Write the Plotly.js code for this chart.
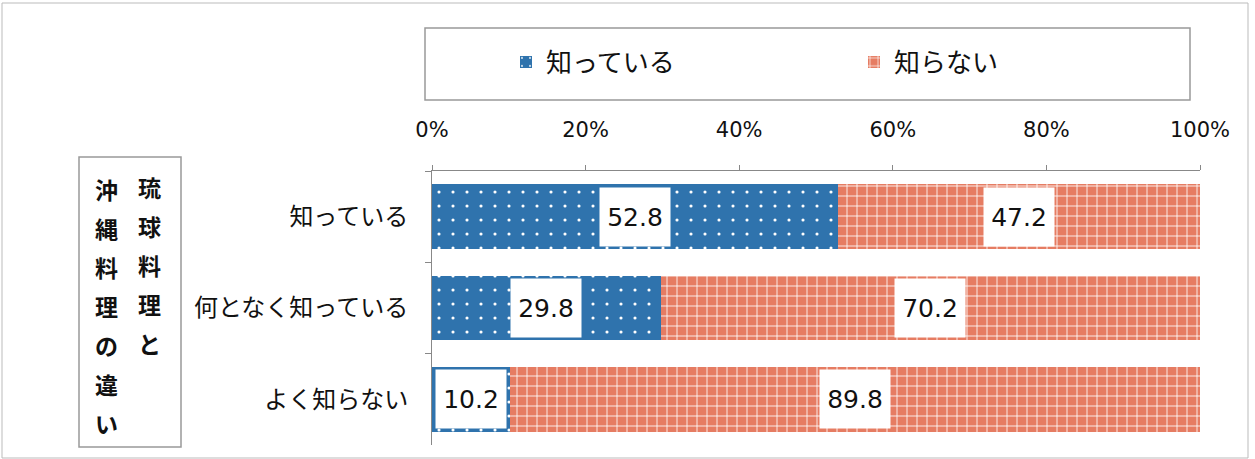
<!DOCTYPE html>
<html><head><meta charset="utf-8">
<script src="https://cdn.plot.ly/plotly-3.0.1.min.js"></script>
<style>html,body{margin:0;padding:0;background:#fff}</style>
</head><body><div id="chart" style="width:1255px;height:459px"></div>
<script>
const categories = ['知っている', '何となく知っている', 'よく知らない'];
const seriesNames = ['知っている', '知らない'];
const knowValues = [52.8, 29.8, 10.2];
const notKnowValues = [47.2, 70.2, 89.8];
const tickVals = [0, 20, 40, 60, 80, 100];
const tickLabels = ['0%', '20%', '40%', '60%', '80%', '100%'];
const sideTitleRight = '琉球料理と';
const sideTitleLeft = '沖縄料理の違い';

const W = 1255, H = 459, ML = 432, MR = 55, MT = 171, MB = 14;
const PW = W - ML - MR, PH = H - MT - MB;
const px = x => (x - ML) / PW;
const py = y => (H - MB - y) / PH;

const blue = '#2f73ad', orange = '#e67c62';
const jp = '"Noto Sans CJK JP", "Noto Sans", sans-serif';

const traces = [
  {type: 'bar', orientation: 'h', name: seriesNames[0], y: categories, x: knowValues, width: 0.71,
   marker: {color: blue, line: {width: 0}, pattern: {shape: '.', bgcolor: blue, fgcolor: '#ffffff', size: 14, solidity: 0.04}},
   hoverinfo: 'skip'},
  {type: 'bar', orientation: 'h', name: seriesNames[1], y: categories, x: notKnowValues, width: 0.71,
   marker: {color: orange, line: {width: 0}, pattern: {shape: '+', bgcolor: orange, fgcolor: '#ffffff', size: 10, solidity: 0.16}},
   hoverinfo: 'skip'}
];

const annotations = [];
const lblFont = {family: 'DejaVu Sans, sans-serif', size: 25, color: '#111'};
categories.forEach((c, i) => {
  annotations.push({xref: 'x', yref: 'y', x: knowValues[i] / 2, y: c, text: knowValues[i].toFixed(1), showarrow: false,
    xanchor: 'center', yanchor: 'middle', bgcolor: '#ffffff', width: 68, height: 56, font: lblFont});
  annotations.push({xref: 'x', yref: 'y', x: knowValues[i] + notKnowValues[i] / 2, y: c, text: notKnowValues[i].toFixed(1), showarrow: false,
    xanchor: 'center', yanchor: 'middle', bgcolor: '#ffffff', width: 68, height: 56, font: lblFont});
});
const sideFont = {family: jp, size: 23, color: '#111', weight: 'bold'};
[...sideTitleRight].forEach((ch, i) => annotations.push({xref: 'paper', yref: 'paper', x: px(149), y: py(187 + i * 39),
  xanchor: 'center', yanchor: 'middle', text: ch, showarrow: false, font: sideFont}));
[...sideTitleLeft].forEach((ch, i) => annotations.push({xref: 'paper', yref: 'paper', x: px(106), y: py(189 + i * 39),
  xanchor: 'center', yanchor: 'middle', text: ch, showarrow: false, font: sideFont}));

const layout = {
  width: W, height: H,
  margin: {l: ML, r: MR, t: MT, b: MB},
  paper_bgcolor: '#ffffff', plot_bgcolor: '#ffffff',
  barmode: 'stack', bargap: 0.29,
  showlegend: true,
  legend: {orientation: 'h', x: px(506), xanchor: 'left', y: py(62), yanchor: 'middle',
    entrywidth: 303, entrywidthmode: 'pixels', font: {family: jp, size: 26, color: '#111'},
    bgcolor: 'rgba(0,0,0,0)', itemwidth: 30, traceorder: 'normal'},
  xaxis: {side: 'top', range: [0, 100], tickvals: tickVals, ticktext: tickLabels, showgrid: false, zeroline: false,
    showline: true, linecolor: '#888', linewidth: 1, ticks: 'outside', ticklen: 5, tickcolor: '#888',
    ticklabelstandoff: 20, tickfont: {family: 'DejaVu Sans, sans-serif', size: 21, color: '#111'}, fixedrange: true},
  yaxis: {autorange: 'reversed', showgrid: false, zeroline: false, showline: true, linecolor: '#888', linewidth: 1,
    ticks: 'outside', ticklen: 6, tickcolor: '#888', tickson: 'boundaries', ticklabelstandoff: 18,
    tickfont: {family: jp, size: 24, color: '#111'}, fixedrange: true},
  shapes: [
    {type: 'rect', xref: 'paper', yref: 'paper', x0: px(425), x1: px(1190), y0: py(28), y1: py(100), line: {color: '#999', width: 1.5}},
    {type: 'rect', xref: 'paper', yref: 'paper', x0: px(79), x1: px(181), y0: py(157), y1: py(447), line: {color: '#999', width: 1.5}},
    {type: 'rect', xref: 'paper', yref: 'paper', x0: px(2), x1: px(1248), y0: py(3), y1: py(458), line: {color: '#bbb', width: 1}}
  ],
  annotations: annotations
};

Plotly.newPlot('chart', traces, layout, {displayModeBar: false, staticPlot: true});
</script></body></html>
